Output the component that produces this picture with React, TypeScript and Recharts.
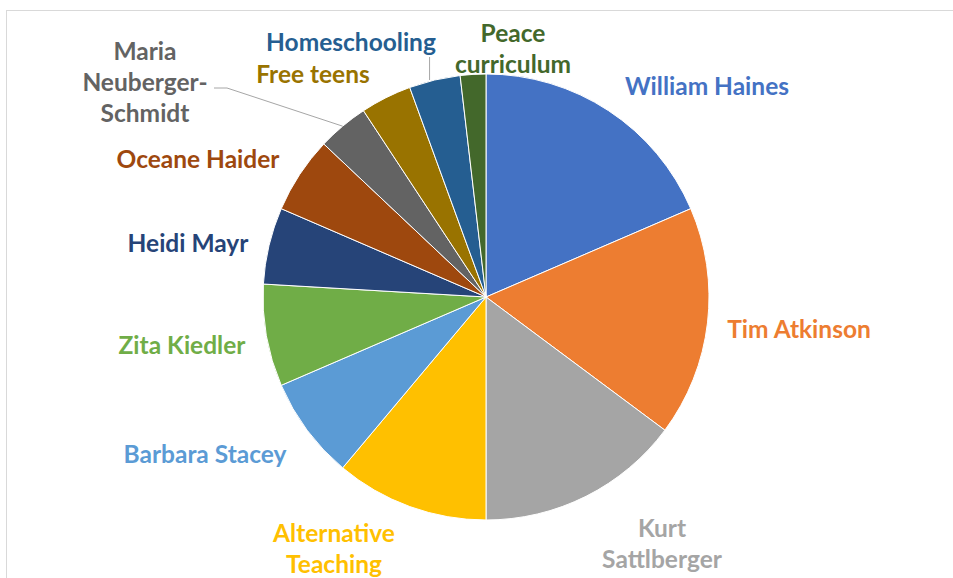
import { Cell, Pie, PieChart } from "recharts";

const NAMES = [
  "William Haines",
  "Tim Atkinson",
  "Kurt Sattlberger",
  "Alternative Teaching",
  "Barbara Stacey",
  "Zita Kiedler",
  "Heidi Mayr",
  "Oceane Haider",
  "Maria Neuberger-Schmidt",
  "Free teens",
  "Homeschooling",
  "Peace curriculum",
];

const VALUES = [10, 9, 8, 6, 4, 4, 3, 3, 2, 2, 2, 1];

const COLORS = [
  "#4472C4",
  "#ED7D31",
  "#A5A5A5",
  "#FFC000",
  "#5B9BD5",
  "#70AD47",
  "#264478",
  "#9E480E",
  "#636363",
  "#997300",
  "#255E91",
  "#43682B",
];

// how each label is wrapped, as in the original
const LABEL_LINES = [
  ["William Haines"],
  ["Tim Atkinson"],
  ["Kurt", "Sattlberger"],
  ["Alternative", "Teaching"],
  ["Barbara Stacey"],
  ["Zita Kiedler"],
  ["Heidi Mayr"],
  ["Oceane Haider"],
  ["Maria", "Neuberger-", "Schmidt"],
  ["Free teens"],
  ["Homeschooling"],
  ["Peace", "curriculum"],
];

// label centre (first line) relative to the pie centre
const LABEL_OFFSET: [number, number][] = [
  [221, -212],
  [313, 31],
  [176, 230],
  [-152, 235],
  [-281, 156],
  [-304, 47],
  [-298, -55],
  [-288, -139],
  [-341, -247],
  [-173, -224],
  [-135, -256],
  [27, -265],
];

const data = NAMES.map((name, i) => ({ name, value: VALUES[i] }));

const RAD = Math.PI / 180;
const LINE_H = 31;

function renderLabel(props: any) {
  const { cx, cy, midAngle, outerRadius, index } = props;
  const [dx, dy] = LABEL_OFFSET[index];
  const lines = LABEL_LINES[index];
  const x = cx + dx;
  const y = cy + dy;
  const ex = cx + outerRadius * Math.cos(-midAngle * RAD);
  const ey = cy + outerRadius * Math.sin(-midAngle * RAD);
  let leader = null;
  if (index === 8) {
    const ly = y + LINE_H + 7;
    leader = (
      <polyline
        points={`${x + 69},${ly} ${x + 82},${ly} ${ex},${ey}`}
        fill="none"
        stroke="#A6A6A6"
        strokeWidth={1}
      />
    );
  } else if (index === 10) {
    leader = (
      <line x1={ex - 5} y1={y + 16} x2={ex - 5} y2={ey} stroke="#A6A6A6" strokeWidth={1} />
    );
  }
  return (
    <g key={`lbl-${index}`}>
      {leader}
      <text
        x={x}
        y={y}
        textAnchor="middle"
        dominantBaseline="central"
        fill={COLORS[index]}
        fontFamily="Lato, sans-serif"
        fontWeight={700}
        fontSize={24.5}
      >
        {lines.map((t, j) => (
          <tspan key={j} x={x} dy={j === 0 ? 0 : LINE_H}>
            {t}
          </tspan>
        ))}
      </text>
    </g>
  );
}

export default function App() {
  return (
    <div
      style={{
        position: "fixed",
        left: 0,
        top: 0,
        width: 953,
        height: 578,
        background: "#fff",
        overflow: "hidden",
      }}
    >
      <div
        style={{
          position: "absolute",
          left: 6,
          top: 10,
          width: 980,
          height: 620,
          border: "1px solid #D9D9D9",
        }}
      />
      <div style={{ position: "absolute", left: 0, top: 0 }}>
        <PieChart width={953} height={578} margin={{ top: 0, right: 0, bottom: 0, left: 0 }}>
          <Pie
            data={data}
            dataKey="value"
            nameKey="name"
            cx={486}
            cy={297}
            outerRadius={223}
            startAngle={90}
            endAngle={-270}
            stroke="#fff"
            strokeWidth={1}
            labelLine={false}
            label={renderLabel}
            isAnimationActive={false}
          >
            {data.map((entry, index) => (
              <Cell key={entry.name} fill={COLORS[index]} />
            ))}
          </Pie>
        </PieChart>
      </div>
    </div>
  );
}
